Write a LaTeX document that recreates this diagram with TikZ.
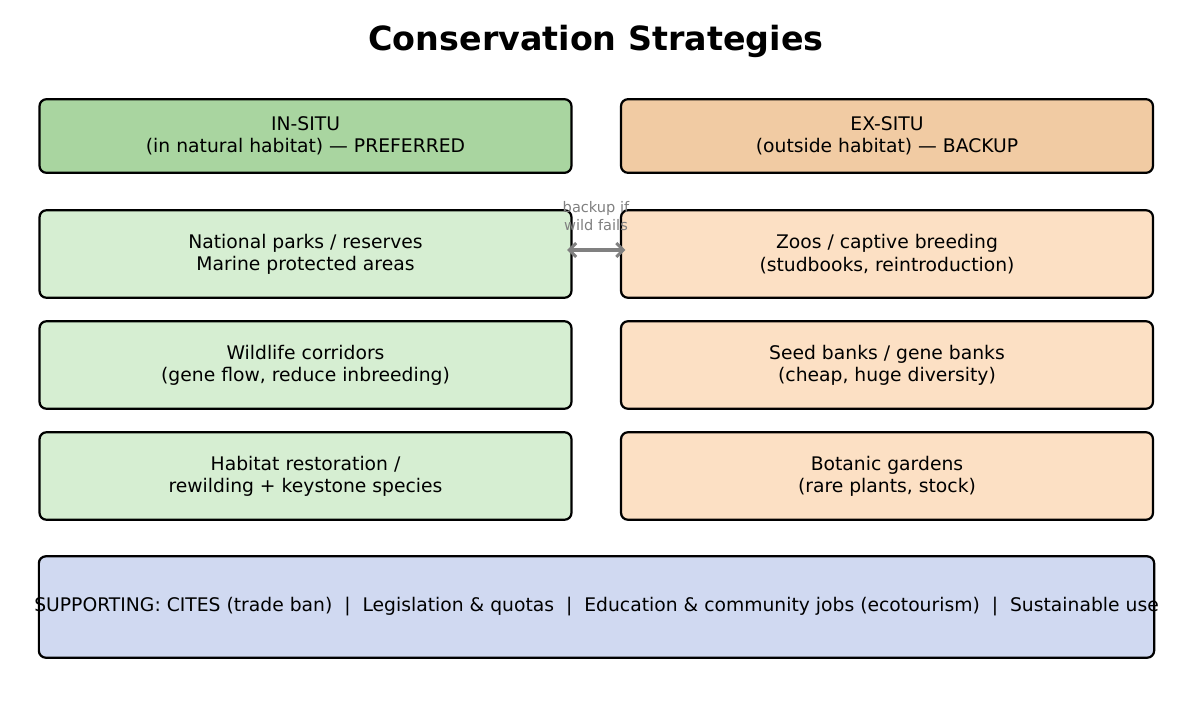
\documentclass[tikz,border=0pt]{standalone}
\usepackage{fontspec}
\setmainfont{DejaVu Sans}
\usepackage{tikz}
\usetikzlibrary{arrows.meta, positioning}
\definecolor{insituhead}{HTML}{A9D5A0}
\definecolor{insitufill}{HTML}{D6EED2}
\definecolor{exsituhead}{HTML}{F1CBA3}
\definecolor{exsitufill}{HTML}{FCE0C4}
\definecolor{supportfill}{HTML}{D0D9F1}
\tikzstyle{card} = [rectangle, rounded corners=5pt, draw=black, line width=1.6pt, minimum width=383pt, minimum height=63pt, align=center, inner sep=0pt, font=\fontsize{13.5}{16}\selectfont]
\tikzstyle{headcard} = [card, minimum height=53pt]
\tikzstyle{arrow} = [line width=2.2pt, draw=gray, {Straight Barb[length=5pt,width=10pt]}-{Straight Barb[length=5pt,width=10pt]}]

\begin{document}
\begin{tikzpicture}[x=0.72pt, y=-0.72pt]
\useasboundingbox (0,0) rectangle (1192,723);

\node[font=\fontsize{24}{29}\selectfont\bfseries] (title) at (596,41) {Conservation Strategies};

% in-situ column
\node[headcard, fill=insituhead] (insitu) at (305.5,136) {IN-SITU\\(in natural habitat) — PREFERRED};
\node[card, fill=insitufill] (parks) at (305.5,254) {National parks / reserves\\Marine protected areas};
\node[card, fill=insitufill] (corridors) at (305.5,365) {Wildlife corridors\\(gene flow, reduce inbreeding)};
\node[card, fill=insitufill] (restoration) at (305.5,476) {Habitat restoration /\\rewilding + keystone species};

% ex-situ column
\node[headcard, fill=exsituhead] (exsitu) at (887,136) {EX-SITU\\(outside habitat) — BACKUP};
\node[card, fill=exsitufill] (zoos) at (887,254) {Zoos / captive breeding\\(studbooks, reintroduction)};
\node[card, fill=exsitufill] (seedbanks) at (887,365) {Seed banks / gene banks\\(cheap, huge diversity)};
\node[card, fill=exsitufill] (gardens) at (887,476) {Botanic gardens\\(rare plants, stock)};

% supporting measures
\node[card, fill=supportfill, minimum width=803pt, minimum height=73pt] (support) at (596.5,607) {\makebox[0pt]{SUPPORTING: CITES (trade ban)\ \ |\ \ Legislation \& quotas\ \ |\ \ Education \& community jobs (ecotourism)\ \ |\ \ Sustainable use}};

\draw[arrow, shorten <=-4pt, shorten >=-4pt] ([yshift=2.9pt]parks.east) -- ([yshift=2.9pt]zoos.west);
\node[align=center, text=gray, font=\fontsize{10.5}{13}\selectfont, inner sep=0pt] (backup) at (596,216) {backup if\\wild fails};
\end{tikzpicture}
\end{document}
